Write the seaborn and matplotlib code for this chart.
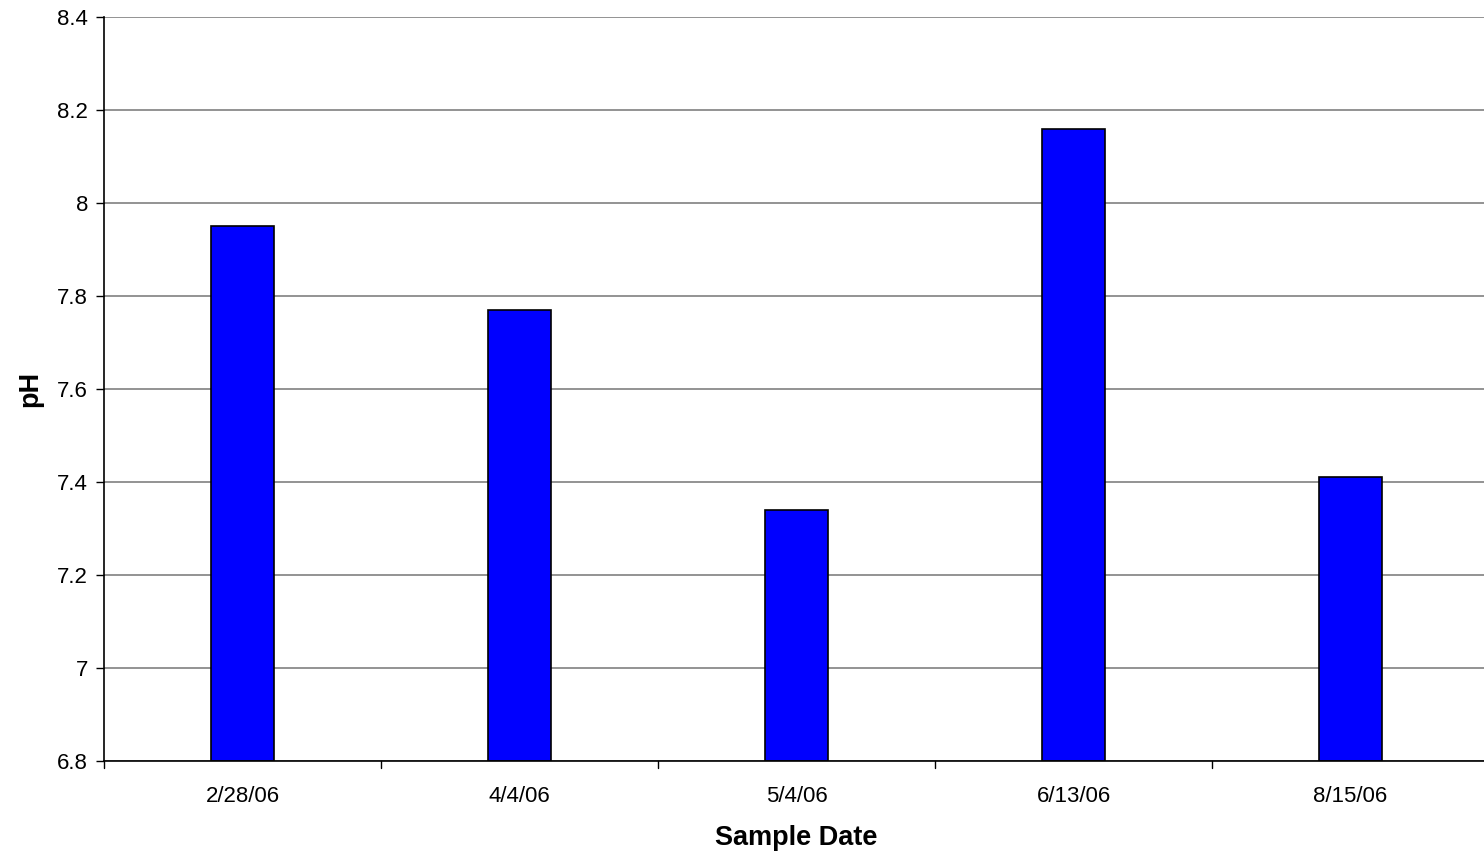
import matplotlib
matplotlib.use("Agg")
import matplotlib.pyplot as plt
import seaborn as sns
import pandas as pd
from matplotlib.transforms import blended_transform_factory
from matplotlib.lines import Line2D

dates = ["2/28/06", "4/4/06", "5/4/06", "6/13/06", "8/15/06"]
ph_values = [7.95, 7.77, 7.34, 8.16, 7.41]
y_ticks = [6.8, 7.0, 7.2, 7.4, 7.6, 7.8, 8.0, 8.2, 8.4]
y_tick_labels = ["6.8", "7", "7.2", "7.4", "7.6", "7.8", "8", "8.2", "8.4"]
y_base = 6.8

sns.set_theme(style="white")
plt.rcParams['font.family'] = ['Liberation Sans', 'DejaVu Sans']
plt.rcParams['text.color'] = 'black'
plt.rcParams['axes.labelcolor'] = 'black'
plt.rcParams['xtick.color'] = 'black'
plt.rcParams['ytick.color'] = 'black'

df = pd.DataFrame({"date": dates, "ph": ph_values})

W, H = 1484, 856
left_px, right_px, top_px, bottom_px = 104, 104 + 277 * 5, 17, 761
fig = plt.figure(figsize=(W / 100, H / 100), dpi=100)
ax = fig.add_axes([left_px / W, 1 - bottom_px / H, (right_px - left_px) / W, (bottom_px - top_px) / H])

ax.set_axisbelow(True)
for t in y_ticks:
    ax.axhline(t, color="#808080", lw=1.2, zorder=0)

sns.barplot(data=df, x="date", y="ph", color="#0000FF", width=0.224,
            edgecolor="black", linewidth=1.2, saturation=1, ax=ax)
for p in ax.patches:
    h = p.get_height()
    p.set_y(y_base)
    p.set_height(h - y_base)

ax.set_ylim(6.8, 8.4)
ax.set_xlim(-0.5, 4.5)
ax.set_yticks(y_ticks)
ax.set_yticklabels(y_tick_labels, fontsize=16)
ax.set_xticks(range(len(dates)))
ax.set_xticklabels(dates, fontsize=16)
ax.tick_params(axis="x", length=0, pad=18)
ax.tick_params(axis="y", length=6, width=1, direction="out", left=True, pad=5.5)

tr = blended_transform_factory(ax.transData, ax.transAxes)
for b in [-0.5, 0.5, 1.5, 2.5, 3.5]:
    ax.add_line(Line2D([b, b], [0, -0.0094], transform=tr, color="black", lw=1, clip_on=False))

for s in ["top", "right"]:
    ax.spines[s].set_visible(False)
for s in ["left", "bottom"]:
    ax.spines[s].set_color("black")
    ax.spines[s].set_linewidth(1.2)

ax.set_xlabel("Sample Date", fontsize=19.5, fontweight="bold", labelpad=13)
ax.set_ylabel("pH", fontsize=19.5, fontweight="bold", labelpad=10)

fig.savefig("out.png", dpi=100)
